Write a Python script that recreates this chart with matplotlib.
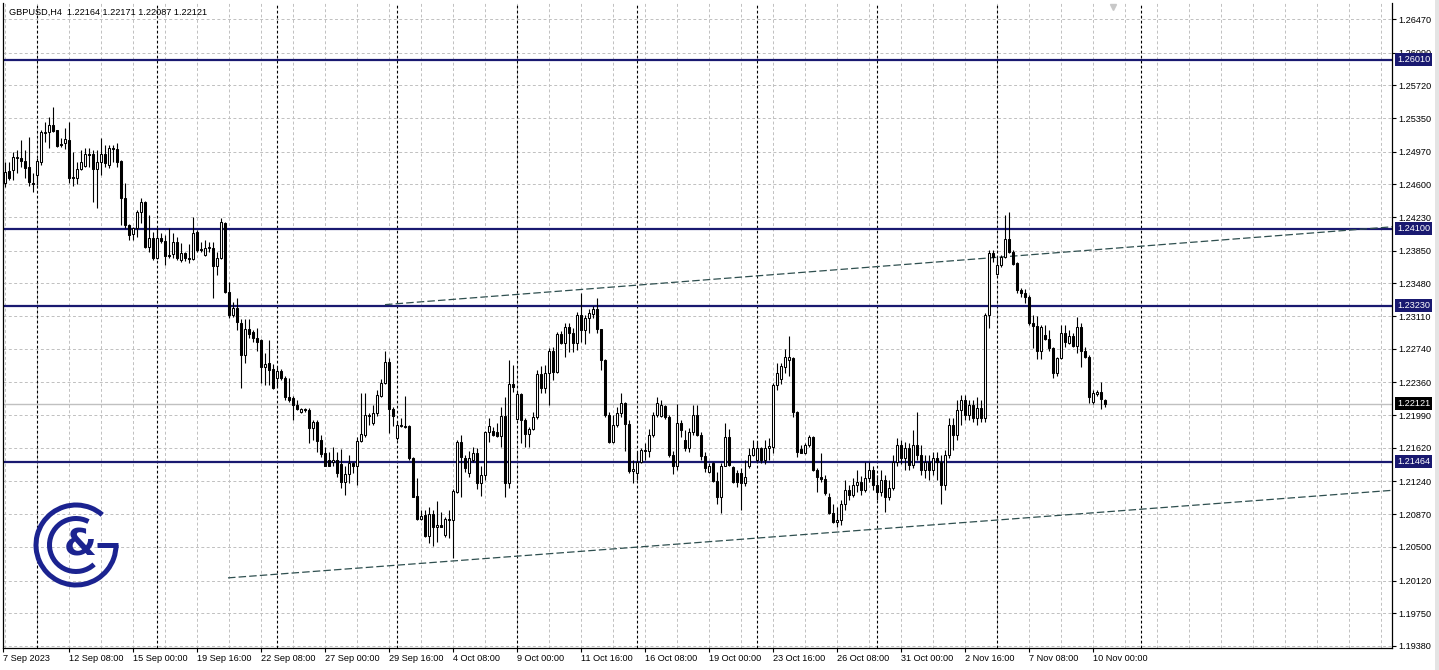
import matplotlib
matplotlib.use('Agg')
import matplotlib.pyplot as plt
from matplotlib.patches import Arc, Rectangle
from matplotlib.transforms import blended_transform_factory
import numpy as np

plt.rcParams['font.family'] = ['Liberation Sans', 'DejaVu Sans']

# GBPUSD H4 candles, bar 0 = 7 Sep 2023 16:00
OPEN = [
    1.2462, 1.2475, 1.2476, 1.2490, 1.2490, 1.2486, 1.2480, 1.2462, 1.2471, 1.2485,
    1.2518, 1.2519, 1.2527, 1.2521, 1.2506, 1.2507, 1.2510, 1.2468, 1.2467, 1.2477,
    1.2481, 1.2494, 1.2494, 1.2477, 1.2485, 1.2494, 1.2482, 1.2501, 1.2500, 1.2486,
    1.2445, 1.2414, 1.2404, 1.2411, 1.2429, 1.2440, 1.2389, 1.2399, 1.2377, 1.2399,
    1.2396, 1.2380, 1.2381, 1.2395, 1.2375, 1.2382, 1.2377, 1.2376, 1.2406, 1.2387,
    1.2380, 1.2388, 1.2388, 1.2368, 1.2377, 1.2416, 1.2338, 1.2312, 1.2320, 1.2303,
    1.2267, 1.2296, 1.2293, 1.2286, 1.2284, 1.2253, 1.2258, 1.2251, 1.2241, 1.2249,
    1.2241, 1.2220, 1.2218, 1.2211, 1.2203, 1.2206, 1.2205, 1.2185, 1.2191, 1.2171,
    1.2156, 1.2148, 1.2146, 1.2148, 1.2144, 1.2123, 1.2132, 1.2145, 1.2141, 1.2170,
    1.2177, 1.2199, 1.2190, 1.2202, 1.2221, 1.2235, 1.2259, 1.2206, 1.2173, 1.2188,
    1.2187, 1.2187, 1.2151, 1.2108, 1.2082, 1.2086, 1.2062, 1.2087, 1.2073, 1.2075,
    1.2063, 1.2082, 1.2081, 1.2112, 1.2169, 1.2150, 1.2134, 1.2148, 1.2156, 1.2122,
    1.2131, 1.2180, 1.2181, 1.2180, 1.2176, 1.2198, 1.2122, 1.2234, 1.2195, 1.2223,
    1.2194, 1.2178, 1.2183, 1.2197, 1.2246, 1.2230, 1.2247, 1.2271, 1.2248, 1.2291,
    1.2281, 1.2299, 1.2292, 1.2281, 1.2312, 1.2295, 1.2309, 1.2313, 1.2319, 1.2296,
    1.2261, 1.2199, 1.2169, 1.2188, 1.2202, 1.2213, 1.2189, 1.2136, 1.2134, 1.2146,
    1.2160, 1.2159, 1.2177, 1.2199, 1.2198, 1.2209, 1.2197, 1.2154, 1.2141, 1.2190,
    1.2171, 1.2162, 1.2180, 1.2199, 1.2177, 1.2153, 1.2135, 1.2145, 1.2124, 1.2106,
    1.2142, 1.2174, 1.2140, 1.2134, 1.2134, 1.2122, 1.2141, 1.2154, 1.2148, 1.2162,
    1.2148, 1.2162, 1.2163, 1.2233, 1.2240, 1.2254, 1.2261, 1.2264, 1.2203, 1.2161,
    1.2156, 1.2165, 1.2174, 1.2137, 1.2129, 1.2127, 1.2107, 1.2088, 1.2078, 1.2081,
    1.2098, 1.2114, 1.2109, 1.2120, 1.2123, 1.2114, 1.2128, 1.2137, 1.2120, 1.2112,
    1.2126, 1.2106, 1.2117, 1.2146, 1.2165, 1.2151, 1.2162, 1.2143, 1.2165, 1.2154,
    1.2137, 1.2146, 1.2137, 1.2151, 1.2146, 1.2120, 1.2154, 1.2188, 1.2177, 1.2205,
    1.2216, 1.2199, 1.2211, 1.2196, 1.2207, 1.2196, 1.2312, 1.2382, 1.2359, 1.2369,
    1.2378, 1.2398, 1.2384, 1.2371, 1.2341, 1.2337, 1.2333, 1.2303, 1.2300, 1.2271,
    1.2290, 1.2285, 1.2275, 1.2247, 1.2264, 1.2292, 1.2281, 1.2288, 1.2277, 1.2299,
    1.2271, 1.2265, 1.2214, 1.2223, 1.2225, 1.22164,
]
HIGH = [
    1.2485, 1.2485, 1.2497, 1.2499, 1.2510, 1.2499, 1.2514, 1.2473, 1.2490, 1.2521,
    1.2531, 1.2536, 1.2548, 1.2522, 1.2513, 1.2524, 1.2531, 1.2497, 1.2485, 1.2499,
    1.2501, 1.2501, 1.2499, 1.2499, 1.2513, 1.2505, 1.2505, 1.2505, 1.2507, 1.2487,
    1.2462, 1.2415, 1.2412, 1.2431, 1.2445, 1.2441, 1.2425, 1.2406, 1.2411, 1.2405,
    1.2403, 1.2411, 1.2405, 1.2400, 1.2394, 1.2384, 1.2393, 1.2423, 1.2408, 1.2395,
    1.2397, 1.2395, 1.2395, 1.2384, 1.2422, 1.2418, 1.2350, 1.2327, 1.2332, 1.2308,
    1.2308, 1.2308, 1.2295, 1.2298, 1.2285, 1.2269, 1.2284, 1.2257, 1.2253, 1.2251,
    1.2243, 1.2241, 1.2221, 1.2216, 1.2207, 1.2207, 1.2207, 1.2194, 1.2194, 1.2177,
    1.2163, 1.2157, 1.2163, 1.2157, 1.2161, 1.2141, 1.2154, 1.2146, 1.2174, 1.2224,
    1.2224, 1.2202, 1.2211, 1.2227, 1.2240, 1.2272, 1.2264, 1.2208, 1.2192, 1.2196,
    1.2221, 1.2188, 1.2152, 1.2128, 1.2092, 1.2092, 1.2095, 1.2092, 1.2102, 1.2089,
    1.2084, 1.2092, 1.2115, 1.2171, 1.2177, 1.2154, 1.2158, 1.2163, 1.2162, 1.2141,
    1.2181, 1.2196, 1.2186, 1.2190, 1.2208, 1.2220, 1.2261, 1.2256, 1.2225, 1.2224,
    1.2196, 1.2186, 1.2203, 1.2250, 1.2255, 1.2256, 1.2275, 1.2276, 1.2293, 1.2294,
    1.2303, 1.2303, 1.2298, 1.2316, 1.2337, 1.2312, 1.2319, 1.2323, 1.2332, 1.2297,
    1.2262, 1.2203, 1.2199, 1.2208, 1.2224, 1.2214, 1.2194, 1.2148, 1.2157, 1.2162,
    1.2168, 1.2183, 1.2203, 1.2220, 1.2216, 1.2210, 1.2199, 1.2158, 1.2212, 1.2194,
    1.2182, 1.2185, 1.2211, 1.2211, 1.2180, 1.2157, 1.2145, 1.2146, 1.2135, 1.2145,
    1.2190, 1.2183, 1.2141, 1.2137, 1.2139, 1.2148, 1.2162, 1.2171, 1.2169, 1.2163,
    1.2171, 1.2173, 1.2235, 1.2258, 1.2258, 1.2274, 1.2288, 1.2265, 1.2204, 1.2165,
    1.2168, 1.2177, 1.2176, 1.2139, 1.2156, 1.2131, 1.2111, 1.2099, 1.2095, 1.2103,
    1.2126, 1.2120, 1.2128, 1.2137, 1.2130, 1.2146, 1.2146, 1.2141, 1.2131, 1.2137,
    1.2131, 1.2126, 1.2154, 1.2173, 1.2171, 1.2169, 1.2167, 1.2182, 1.2203, 1.2165,
    1.2154, 1.2154, 1.2157, 1.2157, 1.2154, 1.2160, 1.2196, 1.2196, 1.2216, 1.2222,
    1.2222, 1.2216, 1.2216, 1.2219, 1.2216, 1.2315, 1.2386, 1.2386, 1.2378, 1.2380,
    1.2425, 1.2429, 1.2386, 1.2372, 1.2343, 1.2342, 1.2335, 1.2312, 1.2311, 1.2301,
    1.2301, 1.2295, 1.2276, 1.2265, 1.2301, 1.2301, 1.2295, 1.2292, 1.2310, 1.2303,
    1.2276, 1.2267, 1.2227, 1.2227, 1.2236, 1.22171,
]
LOW = [
    1.2457, 1.2465, 1.2465, 1.2473, 1.2480, 1.2467, 1.2458, 1.2451, 1.2459, 1.2482,
    1.2508, 1.2501, 1.2519, 1.2502, 1.2502, 1.2500, 1.2462, 1.2458, 1.2460, 1.2476,
    1.2480, 1.2480, 1.2440, 1.2433, 1.2471, 1.2480, 1.2479, 1.2485, 1.2480, 1.2414,
    1.2411, 1.2397, 1.2397, 1.2400, 1.2416, 1.2388, 1.2384, 1.2374, 1.2376, 1.2394,
    1.2369, 1.2377, 1.2377, 1.2374, 1.2372, 1.2373, 1.2371, 1.2374, 1.2384, 1.2384,
    1.2379, 1.2384, 1.2332, 1.2358, 1.2376, 1.2337, 1.2309, 1.2310, 1.2295, 1.2230,
    1.2258, 1.2286, 1.2282, 1.2272, 1.2235, 1.2233, 1.2233, 1.2229, 1.2231, 1.2239,
    1.2216, 1.2214, 1.2194, 1.2205, 1.2201, 1.2203, 1.2168, 1.2171, 1.2157, 1.2152,
    1.2141, 1.2141, 1.2141, 1.2129, 1.2117, 1.2109, 1.2122, 1.2134, 1.2120, 1.2169,
    1.2174, 1.2188, 1.2188, 1.2198, 1.2220, 1.2234, 1.2179, 1.2187, 1.2171, 1.2186,
    1.2185, 1.2148, 1.2106, 1.2080, 1.2080, 1.2061, 1.2055, 1.2051, 1.2056, 1.2072,
    1.2061, 1.2060, 1.2038, 1.2111, 1.2107, 1.2135, 1.2129, 1.2146, 1.2115, 1.2108,
    1.2126, 1.2169, 1.2176, 1.2174, 1.2163, 1.2106, 1.2117, 1.2225, 1.2193, 1.2168,
    1.2163, 1.2163, 1.2182, 1.2195, 1.2224, 1.2224, 1.2211, 1.2239, 1.2247, 1.2280,
    1.2265, 1.2270, 1.2270, 1.2273, 1.2282, 1.2279, 1.2292, 1.2309, 1.2292, 1.2250,
    1.2197, 1.2168, 1.2167, 1.2186, 1.2197, 1.2158, 1.2134, 1.2122, 1.2126, 1.2145,
    1.2148, 1.2152, 1.2174, 1.2197, 1.2197, 1.2195, 1.2152, 1.2132, 1.2137, 1.2174,
    1.2159, 1.2157, 1.2177, 1.2176, 1.2148, 1.2135, 1.2134, 1.2123, 1.2099, 1.2088,
    1.2141, 1.2142, 1.2122, 1.2118, 1.2092, 1.2119, 1.2139, 1.2153, 1.2146, 1.2145,
    1.2144, 1.2148, 1.2156, 1.2227, 1.2234, 1.2247, 1.2243, 1.2197, 1.2152, 1.2156,
    1.2155, 1.2163, 1.2136, 1.2112, 1.2123, 1.2109, 1.2087, 1.2077, 1.2073, 1.2075,
    1.2092, 1.2103, 1.2106, 1.2112, 1.2109, 1.2112, 1.2123, 1.2114, 1.2103, 1.2108,
    1.2090, 1.2103, 1.2114, 1.2142, 1.2144, 1.2137, 1.2137, 1.2139, 1.2148, 1.2131,
    1.2128, 1.2126, 1.2131, 1.2126, 1.2098, 1.2114, 1.2151, 1.2160, 1.2171, 1.2188,
    1.2194, 1.2194, 1.2191, 1.2188, 1.2191, 1.2191, 1.2298, 1.2372, 1.2358, 1.2367,
    1.2377, 1.2382, 1.2369, 1.2337, 1.2333, 1.2326, 1.2301, 1.2275, 1.2263, 1.2263,
    1.2284, 1.2272, 1.2241, 1.2243, 1.2263, 1.2276, 1.2279, 1.2276, 1.2269, 1.2253,
    1.2264, 1.2213, 1.2212, 1.2221, 1.2206, 1.22087,
]
CLOSE = [
    1.2474, 1.2467, 1.2491, 1.2491, 1.2486, 1.2479, 1.2463, 1.2460, 1.2486, 1.2519,
    1.2519, 1.2527, 1.2520, 1.2503, 1.2505, 1.2511, 1.2467, 1.2467, 1.2477, 1.2485,
    1.2494, 1.2493, 1.2477, 1.2485, 1.2494, 1.2484, 1.2501, 1.2500, 1.2485, 1.2445,
    1.2414, 1.2403, 1.2411, 1.2429, 1.2440, 1.2389, 1.2399, 1.2377, 1.2399, 1.2396,
    1.2379, 1.2379, 1.2395, 1.2377, 1.2382, 1.2377, 1.2376, 1.2405, 1.2386, 1.2386,
    1.2388, 1.2389, 1.2368, 1.2377, 1.2417, 1.2338, 1.2312, 1.2320, 1.2304, 1.2267,
    1.2296, 1.2291, 1.2286, 1.2282, 1.2254, 1.2257, 1.2250, 1.2230, 1.2249, 1.2241,
    1.2220, 1.2216, 1.2211, 1.2206, 1.2206, 1.2205, 1.2185, 1.2191, 1.2170, 1.2155,
    1.2142, 1.2142, 1.2148, 1.2134, 1.2123, 1.2132, 1.2145, 1.2141, 1.2170, 1.2178,
    1.2199, 1.2198, 1.2202, 1.2222, 1.2235, 1.2259, 1.2206, 1.2198, 1.2188, 1.2187,
    1.2186, 1.2151, 1.2107, 1.2082, 1.2085, 1.2062, 1.2087, 1.2073, 1.2075, 1.2073,
    1.2082, 1.2081, 1.2113, 1.2169, 1.2152, 1.2139, 1.2150, 1.2156, 1.2122, 1.2131,
    1.2180, 1.2187, 1.2177, 1.2176, 1.2198, 1.2122, 1.2234, 1.2231, 1.2223, 1.2194,
    1.2178, 1.2183, 1.2197, 1.2246, 1.2230, 1.2247, 1.2271, 1.2248, 1.2291, 1.2281,
    1.2299, 1.2292, 1.2281, 1.2312, 1.2295, 1.2309, 1.2315, 1.2319, 1.2296, 1.2261,
    1.2199, 1.2169, 1.2188, 1.2202, 1.2213, 1.2189, 1.2136, 1.2138, 1.2146, 1.2160,
    1.2159, 1.2177, 1.2199, 1.2213, 1.2210, 1.2197, 1.2154, 1.2141, 1.2190, 1.2182,
    1.2162, 1.2180, 1.2199, 1.2177, 1.2153, 1.2139, 1.2142, 1.2124, 1.2106, 1.2142,
    1.2174, 1.2143, 1.2123, 1.2123, 1.2122, 1.2129, 1.2154, 1.2162, 1.2162, 1.2148,
    1.2162, 1.2164, 1.2233, 1.2247, 1.2255, 1.2265, 1.2265, 1.2203, 1.2157, 1.2156,
    1.2165, 1.2174, 1.2137, 1.2129, 1.2127, 1.2111, 1.2088, 1.2078, 1.2080, 1.2098,
    1.2114, 1.2109, 1.2120, 1.2123, 1.2114, 1.2128, 1.2137, 1.2120, 1.2112, 1.2126,
    1.2106, 1.2117, 1.2146, 1.2165, 1.2151, 1.2162, 1.2143, 1.2165, 1.2154, 1.2137,
    1.2146, 1.2137, 1.2151, 1.2146, 1.2120, 1.2154, 1.2188, 1.2177, 1.2205, 1.2216,
    1.2199, 1.2211, 1.2196, 1.2207, 1.2196, 1.2312, 1.2382, 1.2378, 1.2369, 1.2378,
    1.2398, 1.2384, 1.2370, 1.2341, 1.2337, 1.2333, 1.2303, 1.2300, 1.2272, 1.2299,
    1.2285, 1.2275, 1.2247, 1.2264, 1.2292, 1.2282, 1.2288, 1.2277, 1.2299, 1.2271,
    1.2265, 1.2220, 1.2224, 1.2225, 1.2217, 1.22121,
]

PRICE_TICKS = [1.26470, 1.26090, 1.25720, 1.25350, 1.24970, 1.24600, 1.24230,
               1.23850, 1.23480, 1.23110, 1.22740, 1.22360, 1.21990, 1.21620,
               1.21240, 1.20870, 1.20500, 1.20120, 1.19750, 1.19380]
LEVELS = [1.26010, 1.24100, 1.23230, 1.21464]

TIME_BARS = [-0.5, 16, 32, 48, 64, 80, 96, 112, 128, 144, 160, 176, 192, 208,
             224, 240, 256, 272]
TIME_LABELS = ['7 Sep 2023', '12 Sep 08:00', '15 Sep 00:00', '19 Sep 16:00',
               '22 Sep 08:00', '27 Sep 00:00', '29 Sep 16:00', '4 Oct 08:00',
               '9 Oct 00:00', '11 Oct 16:00', '16 Oct 08:00', '19 Oct 00:00',
               '23 Oct 16:00', '26 Oct 08:00', '31 Oct 00:00', '2 Nov 16:00',
               '7 Nov 08:00', '10 Nov 00:00']
WEEK_SEPARATORS = [8, 38, 68, 98, 128, 158, 188, 218, 248, 284]

# channel lines (bar index, price)
UPPER_X, UPPER_Y = [95, 346.75], [1.2324, 1.2412]
LOWER_X, LOWER_Y = [55.75, 346.75], [1.2015, 1.2114]

NAVY = '#191970'
GRID = '#c0c0c0'

W, H = 1439, 670
fig = plt.figure(figsize=(W / 100, H / 100), dpi=100)
fig.patch.set_facecolor('white')
ax = fig.add_axes([3 / W, 22 / H, 1389 / W, 645 / H])
ax.set_xlim(-0.5, 346.75)
ax.set_ylim(1.19357, 1.26651)

# grid
for g in range(0, 347, 8):
    ax.axvline(g, color=GRID, lw=0.7, ls=(0, (3, 2.5)), zorder=0.5)
for p in PRICE_TICKS:
    ax.axhline(p, color=GRID, lw=0.7, ls=(0, (3, 2.5)), zorder=0.5)
for s in WEEK_SEPARATORS:
    ax.axvline(s, color='black', lw=0.8, ls=(0, (2.5, 2)), zorder=0.8)

last = CLOSE[-1]
ax.axhline(last, color=GRID, lw=1.0, zorder=1)

for lv in LEVELS:
    ax.axhline(lv, color=NAVY, lw=1.6, zorder=1.5)

ax.plot(UPPER_X, UPPER_Y, color='#2f4f4f', lw=0.9, ls=(0, (6, 2.5)), zorder=1.6)
ax.plot(LOWER_X, LOWER_Y, color='#2f4f4f', lw=0.9, ls=(0, (6, 2.5)), zorder=1.6)

# candles
o = np.array(OPEN); h = np.array(HIGH); l = np.array(LOW); c = np.array(CLOSE)
x = np.arange(len(o))
ax.vlines(x, l, h, color='black', lw=0.8, zorder=3)
up = c >= o
ax.bar(x[up], c[up] - o[up], bottom=o[up], width=0.55, color='white',
       edgecolor='black', lw=0.75, zorder=4)
ax.bar(x[~up], o[~up] - c[~up], bottom=c[~up], width=0.55, color='black',
       edgecolor='black', lw=0.75, zorder=4)

# chart shift marker
ax.plot([277], [1.2661], marker='v', color='#c8c8c8', ms=5, zorder=2, clip_on=False)

# axes styling
ax.spines['top'].set_visible(False)
for side in ['left', 'right', 'bottom']:
    ax.spines[side].set_color('black')
    ax.spines[side].set_linewidth(0.9)

ax.yaxis.tick_right()
ax.set_yticks(PRICE_TICKS)
ax.set_yticklabels([f'{p:.5f}' for p in PRICE_TICKS])
ax.tick_params(axis='y', length=3, width=0.8, pad=1.5, labelsize=6.6)
ax.set_xticks(TIME_BARS)
ax.set_xticklabels(TIME_LABELS)
ax.tick_params(axis='x', length=3, width=0.8, pad=1.5, labelsize=6.6)
for lbl in ax.get_xticklabels():
    lbl.set_ha('left')

trans = blended_transform_factory(ax.transAxes, ax.transData)
for lv in LEVELS:
    ax.text(1.0 + 5 / 1389, lv, f'{lv:.5f}', transform=trans, va='center', ha='left',
            color='white', fontsize=6.6, clip_on=False, zorder=6,
            bbox=dict(boxstyle='square,pad=0.2', fc=NAVY, ec='none'))
ax.text(1.0 + 5 / 1389, last, f'{last:.5f}', transform=trans, va='center', ha='left',
        color='white', fontsize=6.6, clip_on=False, zorder=6,
        bbox=dict(boxstyle='square,pad=0.2', fc='black', ec='none'))

fig.text(9 / W, 1 - 12 / H,
         f'GBPUSD,H4  {OPEN[-1]:.5f} {HIGH[-1]:.5f} {LOW[-1]:.5f} {CLOSE[-1]:.5f}',
         fontsize=6.6, va='center', ha='left')

# window edge strip on the right
fig.patches.append(Rectangle((1435 / W, 0), 4 / W, 1, transform=fig.transFigure,
                             fc='#e4e4e4', ec='none', zorder=0))

# logo
LOGO = '#1b2390'
lax = fig.add_axes([28 / W, (H - 592) / H, 96 / W, 94 / H])
lax.set_xlim(-48, 48)
lax.set_ylim(-47, 47)
lax.set_aspect('equal')
lax.axis('off')
lax.add_patch(Arc((0, 0), 80, 80, theta1=49, theta2=360, lw=3.6, color=LOGO))
lax.plot([21, 41.5], [0, 0], color=LOGO, lw=3.6, solid_capstyle='butt')
lax.add_patch(Arc((0, 0), 53, 53, theta1=62, theta2=313, lw=3.6, color=LOGO))
lax.text(4, -1, '&', fontsize=27, fontweight='bold', color=LOGO,
         ha='center', va='center', family='DejaVu Sans')

fig.savefig('out.png', dpi=100)
